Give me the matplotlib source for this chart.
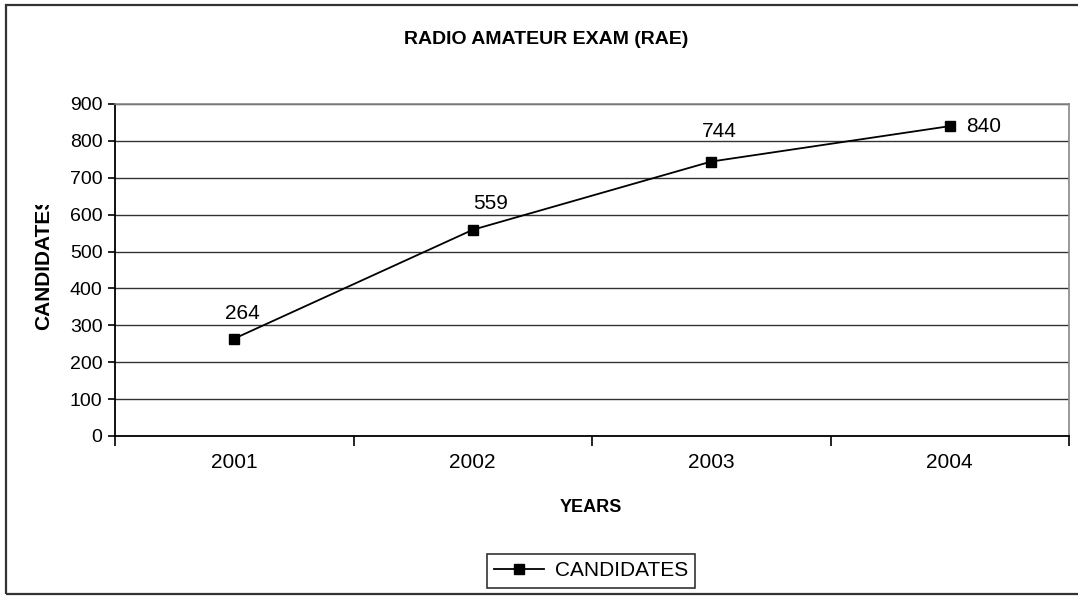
import matplotlib
matplotlib.use("Agg")
import matplotlib.pyplot as plt
from matplotlib.patches import Rectangle
from matplotlib.transforms import Bbox

plt.rcParams['font.family'] = ['Liberation Sans', 'DejaVu Sans']

years = ["2001", "2002", "2003", "2004"]
candidates = [264, 559, 744, 840]
yticks = list(range(0, 1000, 100))

W, H = 1078, 596
fig = plt.figure(figsize=(W / 100, H / 100), dpi=100)
ax = fig.add_axes([115 / W, 1 - 436 / H, (1069 - 115) / W, (436 - 104) / H])

x = list(range(len(years)))
ax.plot(x, candidates, color="black", lw=1.3, marker="s", markersize=7,
        markerfacecolor="black", markeredgecolor="black", label="CANDIDATES", zorder=3)

# label offsets in pixels (points at 100 dpi -> *0.72)
offsets = [(8, 25), (18, 26), (8, 30), (34, 0)]
for xi, v, (dx, dy) in zip(x, candidates, offsets):
    ax.annotate(str(v), (xi, v), xytext=(dx * 0.72, dy * 0.72), textcoords="offset points",
                ha="center", va="center", fontsize=15, color="black", zorder=4)

ax.set_xlim(-0.5, len(years) - 0.5)
ax.set_ylim(0, 900)
ax.set_yticks(yticks)
ax.set_yticklabels([str(t) for t in yticks], fontsize=14)
ax.yaxis.grid(True, color="#333333", lw=1.0)
ax.set_axisbelow(True)

ax.set_xticks(x)
ax.set_xticklabels(years, fontsize=15)
ax.set_xticks([i - 0.5 for i in range(len(years) + 1)], minor=True)
ax.tick_params(axis="x", which="major", length=0, pad=12)
ax.tick_params(axis="x", which="minor", length=7, width=1.2, direction="out", color="black")
ax.tick_params(axis="y", length=5, width=1.2, direction="out", pad=4)

for s in ("left", "bottom"):
    ax.spines[s].set_color("black")
    ax.spines[s].set_linewidth(1.3)
for s in ("top", "right"):
    ax.spines[s].set_color("#888888")
    ax.spines[s].set_linewidth(1.2)

fig.text(546 / W, 1 - 39 / H, "RADIO AMATEUR EXAM (RAE)", ha="center", va="center",
         fontsize=14, fontweight="bold")
fig.text(591 / W, 1 - 507 / H, "YEARS", ha="center", va="center",
         fontsize=13, fontweight="bold")
ylab = fig.text(44 / W, 1 - 262 / H, "CANDIDATES", ha="center", va="center",
                rotation=90, fontsize=15, fontweight="bold")
ylab.set_clip_box(Bbox.from_extents(0, 0, W, H - 205))
ylab.set_clip_on(True)

leg = ax.legend(loc="center", bbox_to_anchor=(591 / W, 1 - 571 / H),
                bbox_transform=fig.transFigure, fontsize=15, frameon=True,
                fancybox=False, handlelength=2.4, borderpad=0.35, handletextpad=0.5)
leg.get_frame().set_edgecolor("black")
leg.get_frame().set_linewidth(1.2)

fig.patches.append(Rectangle((6 / W, 1 - 594 / H), 1.05, (594 - 5) / H,
                             transform=fig.transFigure, fill=False,
                             edgecolor="#333333", lw=1.6))

fig.savefig("out.png", dpi=100, facecolor="white")
